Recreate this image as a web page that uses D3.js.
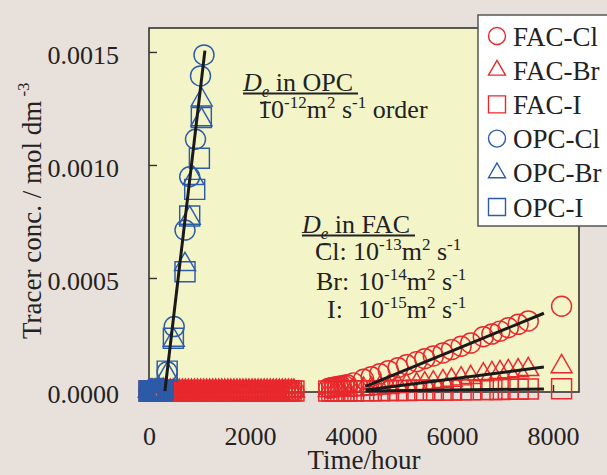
<!DOCTYPE html>
<html><head><meta charset="utf-8">
<script src="https://cdn.jsdelivr.net/npm/d3@7"></script>
<style>
html,body{margin:0;padding:0;background:#e8e0da;}
svg{display:block;font-family:"Liberation Serif","Times New Roman",serif;}
</style></head><body>
<svg id="chart" width="607" height="475"></svg>
<script>
// ---------- data (hours, mol dm^-3) ----------
const xTicks = [0, 2000, 4000, 6000, 8000];
const yTicks = [0, 0.0005, 0.0010, 0.0015];
const seriesNames = ["FAC-Cl", "FAC-Br", "FAC-I", "OPC-Cl", "OPC-Br", "OPC-I"];

// FAC: early period (no breakthrough yet)
const facEarlyHours = [0, 60, 120, 180, 240, 300, 360, 420, 480, 540, 600, 660, 720, 780, 840, 900,
  960, 1020, 1080, 1140, 1200, 1260, 1320, 1380, 1440, 1500, 1560, 1620, 1680, 1740, 1800, 1860,
  1920, 1980, 2040, 2100, 2160, 2220, 2280, 2340, 2400, 2460, 2520, 2580, 2640, 2700, 2760, 2820, 2870];
const facEarlyConc = [0, 0, 0, 0, 0, 0, 0, 0, 0, 0, 0, 0, 0, 0, 0, 0,
  0, 0, 0, 0, 0, 0, 0, 0, 0, 0, 0, 0, 0, 0, 0, 0,
  0, 0, 0, 0, 0, 0, 0, 0, 0, 0, 0, 0, 0, 0, 0, 0, 0];

// FAC: later period
const facLateHours = [3560, 3620, 3680, 3740, 3800, 3860, 3920, 4050, 4250, 4400, 4570, 4740, 4930,
  5100, 5300, 5460, 5630, 5820, 5990, 6180, 6370, 6620, 6790, 6950, 7115, 7310, 7510, 8170];
const facClLate = [0.000012, 0.000014, 0.000018, 0.00002, 0.000022, 0.000025, 0.000028, 0.000036,
  0.000052, 0.000063, 0.000076, 0.00009, 0.000103, 0.000116, 0.00013, 0.000143, 0.000155, 0.000168,
  0.000183, 0.000198, 0.000212, 0.000240, 0.000252, 0.000265, 0.000280, 0.000295, 0.000310, 0.000375];
const facBrLate = [0.000002, 0.000002, 0.000003, 0.000003, 0.000004, 0.000004, 0.000005, 0.000006,
  0.000008, 0.00001, 0.000013, 0.000016, 0.00002, 0.000024, 0.000028, 0.000032, 0.000036, 0.000042,
  0.000048, 0.000054, 0.00006, 0.000072, 0.000077, 0.000082, 0.000086, 0.00009, 0.000095, 0.000108];
const facILate = [0, 0, 0, 0, 0, 0, 0, 0, 0.000001, 0.000001, 0.000001, 0.000002, 0.000002, 0.000002,
  0.000003, 0.000003, 0.000003, 0.000004, 0.000004, 0.000005, 0.000005, 0.000006, 0.000007, 0.000007,
  0.000008, 0.000008, 0.000009, 0.00001];

// OPC: early period
const opcEarlyHours = [0, 25, 50, 75, 100, 130, 160, 190, 220, 250, 280];
const opcEarlyConc = [0, 0, 0, 0, 0, 0, 0, 0, 0, 0, 0.000004];

// OPC: breakthrough
const opcClHours = [360, 499, 713, 806, 921, 1020, 1089];
const opcClConc = [0.000085, 0.000285, 0.000712, 0.000948, 0.001114, 0.001394, 0.001487];
const opcBrHours = [360, 490, 713, 806, 883, 1040, 1043];
const opcBrConc = [0.000075, 0.000225, 0.00056, 0.000765, 0.00094, 0.0012, 0.001288];
const opcIHours = [360, 483, 713, 806, 905, 998, 1036];
const opcIConc = [0.000088, 0.000233, 0.000528, 0.000774, 0.000892, 0.00103, 0.00121];

// fitted lines [hour, conc]
const fitOPC = [[315, 0], [1107, 0.001506]];
const fitFACCl = [[4290, 0.00002], [7820, 0.000344]];
const fitFACBr = [[4290, 0.000004], [7820, 0.000106]];
const fitFACI = [[4290, 0], [7820, 0.000009]];

// ---------- layout ----------
const W = 607, H = 475;
const plot = {left: 149, top: 28, width: 430, height: 364};
const RED = "#e8282d", BLUE = "#2c5ba8", INK = "#222";

const svg = d3.select("#chart");
svg.append("rect").attr("width", W).attr("height", H).attr("fill", "#e8e0da");

const x = d3.scaleLinear().domain([0, 8515]).range([plot.left, plot.left + plot.width]);
const y = d3.scaleLinear().domain([-0.0000044, 0.001606]).range([plot.top + plot.height, plot.top]);

svg.append("rect").attr("x", plot.left).attr("y", plot.top)
  .attr("width", plot.width).attr("height", plot.height)
  .attr("fill", "#f3f5c8").attr("stroke", "#333").attr("stroke-width", 1.6);

// axes
const yAxis = d3.axisLeft(y).tickValues(yTicks).tickSize(-8).tickPadding(30)
  .tickFormat(d3.format(".4f"));
const gy = svg.append("g").attr("transform", `translate(${plot.left},0)`).call(yAxis);
gy.select(".domain").remove();
gy.selectAll(".tick line").attr("stroke", "#333").attr("stroke-width", 1.4);
gy.selectAll(".tick text").attr("font-size", 26).attr("fill", INK)
  .attr("font-family", "Liberation Serif").attr("dy", "0.44em");

const xAxis = d3.axisBottom(x).tickValues(xTicks).tickSize(-7).tickPadding(35).tickFormat(d3.format("d"));
const gx = svg.append("g").attr("transform", `translate(0,${plot.top + plot.height})`).call(xAxis);
gx.select(".domain").remove();
gx.selectAll(".tick line").attr("stroke", "#333").attr("stroke-width", 1.4);
gx.selectAll(".tick text").attr("font-size", 26).attr("fill", INK)
  .attr("font-family", "Liberation Serif");

// axis titles
svg.append("text").attr("x", plot.left + plot.width / 2).attr("y", 469)
  .attr("text-anchor", "middle").attr("font-size", 27).attr("fill", INK).text("Time/hour");
const yt = svg.append("text").attr("transform", "translate(41,339) rotate(-90)")
  .attr("font-size", 27).attr("fill", INK);
yt.append("tspan").text("Tracer conc. / mol dm");
yt.append("tspan").attr("dy", -12).attr("font-size", 17).text("\u00a0-3");

// markers
const shapes = {circle: d3.symbolCircle, triangle: d3.symbolTriangle, square: d3.symbolSquare};
const sizes = {circle: 314, triangle: 191, square: 400};
const legendSizes = {circle: 227, triangle: 125, square: 289};

function pairs(hours, conc) { return hours.map((h, i) => [h, conc[i]]); }

const series = [
  {name: seriesNames[0], color: RED, shape: "circle", data: pairs(facEarlyHours, facEarlyConc).concat(pairs(facLateHours, facClLate))},
  {name: seriesNames[1], color: RED, shape: "triangle", data: pairs(facEarlyHours, facEarlyConc).concat(pairs(facLateHours, facBrLate))},
  {name: seriesNames[2], color: RED, shape: "square", data: pairs(facEarlyHours, facEarlyConc).concat(pairs(facLateHours, facILate))},
  {name: seriesNames[3], color: BLUE, shape: "circle", data: pairs(opcEarlyHours, opcEarlyConc).concat(pairs(opcClHours, opcClConc))},
  {name: seriesNames[4], color: BLUE, shape: "triangle", data: pairs(opcEarlyHours, opcEarlyConc).concat(pairs(opcBrHours, opcBrConc))},
  {name: seriesNames[5], color: BLUE, shape: "square", data: pairs(opcEarlyHours, opcEarlyConc).concat(pairs(opcIHours, opcIConc))}
];

series.forEach(s => {
  const sym = d3.symbol().type(shapes[s.shape]).size(sizes[s.shape]);
  svg.append("g").selectAll("path").data(s.data).join("path")
    .attr("d", sym)
    .attr("transform", d => `translate(${x(d[0])},${y(d[1])})`)
    .attr("fill", "none").attr("stroke", s.color).attr("stroke-width", 1.45);
});

// fit lines
const line = d3.line().x(d => x(d[0])).y(d => y(d[1]));
[fitOPC, fitFACCl, fitFACBr, fitFACI].forEach(f => {
  svg.append("path").attr("d", line(f)).attr("stroke", "#1a1a1a")
    .attr("stroke-width", 3).attr("fill", "none");
});

// annotations
function deTitle(x0, yb, rest, ulEnd) {
  const t = svg.append("text").attr("x", x0).attr("y", yb).attr("font-size", 26).attr("fill", INK);
  t.append("tspan").attr("font-style", "italic").text("D");
  t.append("tspan").attr("font-style", "italic").attr("font-size", 17).attr("dy", 6).text("e");
  t.append("tspan").attr("dy", -6).text(rest);
  svg.append("line").attr("x1", x0).attr("x2", ulEnd).attr("y1", yb + 3).attr("y2", yb + 3)
    .attr("stroke", INK).attr("stroke-width", 1.8);
  svg.append("line").attr("x1", x0 + 17).attr("x2", x0 + 28).attr("y1", yb + 12).attr("y2", yb + 12)
    .attr("stroke", INK).attr("stroke-width", 1.5);
}
function coef(x0, yb, parts) {
  const t = svg.append("text").attr("x", x0).attr("y", yb).attr("font-size", 26).attr("fill", INK);
  parts.forEach(p => {
    if (p.sup) t.append("tspan").attr("font-size", 17).attr("dy", -10).text(p.sup);
    else t.append("tspan").attr("dy", p.after ? 10 : 0).text(p.t);
  });
  return t;
}
deTitle(243, 90.5, "\u00a0in OPC", 358);
coef(258, 118, [{t: "10"}, {sup: "-12"}, {t: "m", after: true}, {sup: "2"}, {t: "\u00a0s", after: true}, {sup: "-1"}, {t: "\u00a0order", after: true}]);

deTitle(302, 232.5, "\u00a0in FAC", 415);
const facLabels = [["Cl:", 315, 260, 353, "-13"], ["Br:", 316, 290, 358, "-14"], ["I:", 327, 318, 358, "-15"]];
facLabels.forEach(([lab, lx, yb, cx, ex]) => {
  svg.append("text").attr("x", lx).attr("y", yb).attr("font-size", 26).attr("fill", INK).text(lab);
  coef(cx, yb, [{t: "10"}, {sup: ex}, {t: "m", after: true}, {sup: "2"}, {t: "\u00a0s", after: true}, {sup: "-1"}]);
});

// legend
const lg = svg.append("g");
lg.append("rect").attr("x", 478).attr("y", 15).attr("width", 140).attr("height", 211)
  .attr("fill", "#fff").attr("stroke", "#555").attr("stroke-width", 1.5);
const legendY = d3.scalePoint().domain(seriesNames).range([36, 207]);
series.forEach(s => {
  const cy = legendY(s.name);
  lg.append("path").attr("d", d3.symbol().type(shapes[s.shape]).size(legendSizes[s.shape])())
    .attr("transform", `translate(497,${cy})`).attr("fill", "none")
    .attr("stroke", s.color).attr("stroke-width", 1.4);
  lg.append("text").attr("x", 513).attr("y", cy + 9.5).attr("font-size", 27).attr("fill", INK).text(s.name);
});
</script>
</body></html>
